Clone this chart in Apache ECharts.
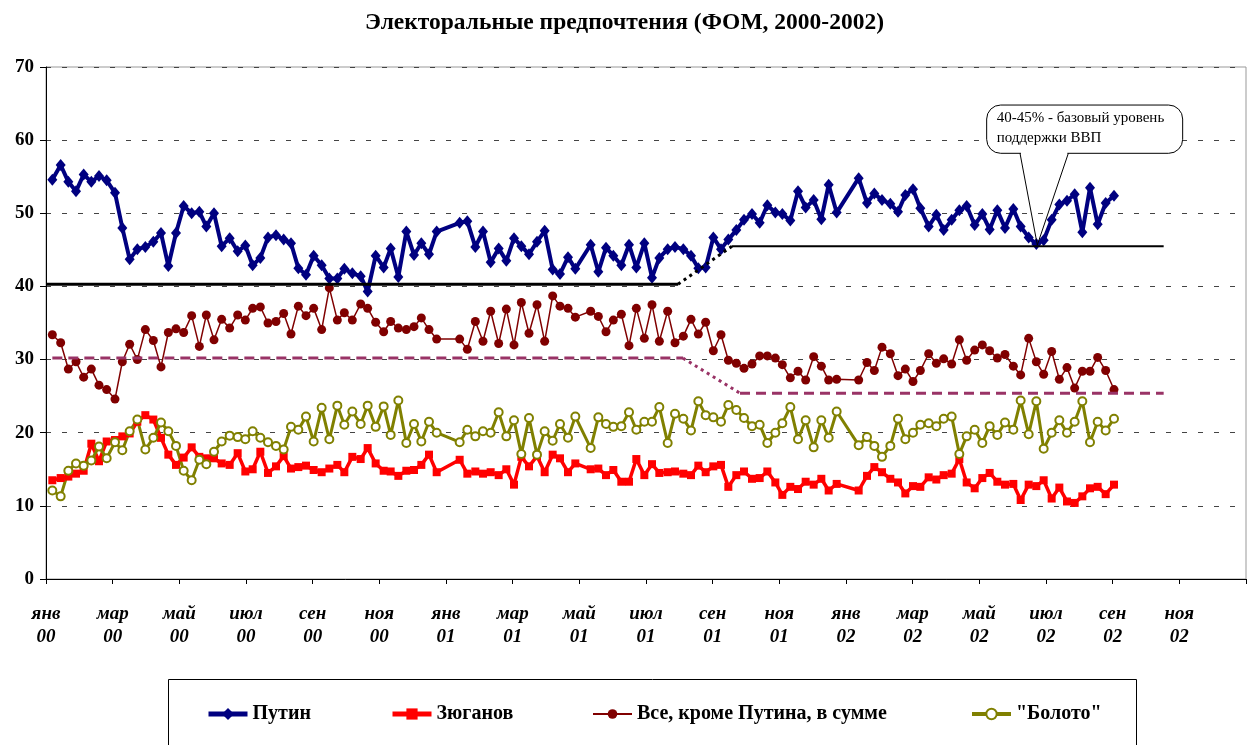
<!DOCTYPE html>
<html>
<head>
<meta charset="utf-8">
<script src="https://cdn.jsdelivr.net/npm/echarts@6/dist/echarts.min.js"></script>
<style>
html,body{margin:0;padding:0;background:#fff;}
#c{width:1249px;height:745px;}
</style>
</head>
<body>
<div id="c"></div>
<script>
// Poll dates, in months since 1 Jan 2000
const pollMonths = [
0.19,0.44,0.67,0.90,1.13,1.36,1.59,1.82,2.07,2.29,
2.51,2.74,2.98,3.22,3.45,3.67,3.90,4.13,4.37,4.60,
4.81,5.04,5.27,5.51,5.75,5.98,6.20,6.43,6.66,6.90,
7.13,7.35,7.57,7.80,8.03,8.27,8.50,8.74,8.95,9.19,
9.44,9.65,9.89,10.13,10.34,10.57,10.81,11.04,11.26,11.49,
11.72,12.41,12.64,12.88,13.11,13.34,13.58,13.81,14.04,14.26,
14.49,14.73,14.96,15.20,15.42,15.66,15.88,16.34,16.57,16.80,
17.02,17.26,17.49,17.71,17.95,18.18,18.40,18.65,18.87,19.12,
19.35,19.57,19.79,20.02,20.25,20.47,20.71,20.94,21.18,21.41,
21.64,21.88,22.09,22.33,22.56,22.79,23.03,23.26,23.48,23.72,
24.38,24.63,24.85,25.08,25.33,25.56,25.78,26.01,26.23,26.48,
26.71,26.93,27.17,27.40,27.62,27.86,28.09,28.31,28.54,28.77,
29.02,29.24,29.48,29.71,29.93,30.17,30.40,30.63,30.86,31.09,
31.32,31.55,31.79,32.04
];

const putin = [
54.6,56.6,54.3,53.0,55.3,54.3,55.1,54.5,52.8,48.0,
43.7,45.1,45.4,46.1,47.3,42.8,47.3,51.0,50.0,50.2,
48.2,50.0,45.5,46.6,44.8,45.6,42.9,43.9,46.7,47.0,
46.4,45.9,42.5,41.6,44.2,42.9,41.1,41.1,42.4,41.8,
41.4,39.3,44.2,42.6,45.2,41.3,47.5,44.3,45.9,44.4,
47.5,48.7,48.9,45.4,47.5,43.3,45.2,43.5,46.6,45.5,
44.4,46.1,47.6,42.3,41.7,44.0,42.4,45.7,42.0,45.3,
44.2,42.9,45.7,42.6,45.9,41.2,43.9,45.1,45.4,45.1,
44.2,42.5,42.6,46.7,45.1,46.4,47.7,49.1,49.9,48.7,
51.1,50.1,49.9,49.0,53.0,50.8,51.8,49.2,53.9,50.1,
54.8,51.4,52.7,51.8,51.3,50.2,52.5,53.3,50.7,48.2,
49.8,47.7,49.1,50.4,51.0,48.4,49.9,47.8,50.4,48.0,
50.6,48.2,46.7,45.8,46.3,49.1,51.2,51.7,52.6,47.4,
53.5,48.5,51.4,52.4
];

const zyuganov = [
13.5,13.8,14.0,14.4,14.8,18.5,16.1,18.8,19.0,19.5,
19.9,21.5,22.4,21.8,19.3,17.0,15.6,16.6,18.0,16.7,
16.5,16.5,15.8,15.6,17.2,14.7,15.0,17.4,14.5,15.4,
16.8,15.1,15.3,15.5,14.9,14.6,15.1,15.6,14.6,16.7,
16.4,17.9,15.8,14.8,14.7,14.1,14.8,14.9,15.6,17.0,
14.6,16.3,14.4,14.7,14.4,14.6,14.2,15.0,12.9,16.7,
15.4,16.8,14.6,17.0,16.5,14.6,15.8,15.0,15.1,14.2,
14.9,13.3,13.3,16.4,14.2,15.7,14.5,14.6,14.7,14.4,
14.2,15.5,14.6,15.4,15.6,12.6,14.2,14.7,13.7,13.8,
14.7,13.2,11.5,12.6,12.3,13.3,12.9,13.7,12.1,13.0,
12.1,14.1,15.3,14.6,13.7,13.2,11.7,12.7,12.6,13.9,
13.6,14.2,14.4,16.4,13.2,12.4,13.8,14.5,13.3,12.9,
13.0,10.8,12.9,12.7,13.5,11.0,12.5,10.6,10.4,11.3,
12.4,12.6,11.6,12.9
];

const allButPutin = [
33.4,32.3,28.7,29.7,27.6,28.7,26.5,25.9,24.6,29.7,
32.1,30.0,34.1,32.6,29.0,33.7,34.2,33.7,36.0,31.8,
36.1,32.7,35.5,34.3,36.1,35.4,37.0,37.2,35.0,35.2,
36.3,33.5,37.3,36.0,37.0,34.1,39.8,35.4,36.4,35.4,
37.6,37.0,35.1,33.8,35.2,34.3,34.1,34.5,35.7,34.1,
32.8,32.8,31.4,35.2,32.5,36.6,32.2,36.9,32.0,37.8,
33.6,37.5,32.5,38.7,37.3,37.0,35.8,36.6,35.9,33.8,
35.4,36.2,31.9,37.0,32.9,37.5,32.5,36.6,32.3,33.2,
35.5,33.5,35.1,31.2,33.4,29.9,29.5,28.8,29.4,30.5,
30.5,30.2,29.3,27.5,28.4,27.2,30.4,29.1,27.2,27.3,
27.2,29.6,28.5,31.7,30.8,27.8,28.7,27.0,28.5,30.8,
29.5,30.1,29.4,32.7,29.9,31.3,32.0,31.2,30.2,30.7,
29.1,27.9,32.9,29.7,28.0,31.1,27.3,28.9,26.1,28.4,
28.4,30.3,28.5,25.9
];

const boloto = [
12.1,11.3,14.8,15.8,15.5,16.2,18.1,16.5,18.7,17.6,
20.2,21.8,17.7,19.3,21.4,20.2,18.2,14.8,13.5,16.3,
15.7,17.4,18.8,19.6,19.4,19.1,20.2,19.3,18.7,18.2,
17.7,20.8,20.4,22.2,18.8,23.4,19.1,23.7,21.1,22.9,
21.2,23.7,20.8,23.6,19.7,24.4,18.6,21.2,18.8,21.5,
20.0,18.7,20.4,19.5,20.2,20.0,22.8,19.5,21.7,17.1,
22.0,17.0,20.2,18.9,21.2,19.3,22.2,17.9,22.1,21.2,
20.8,20.9,22.8,20.4,21.5,21.5,23.5,18.6,22.6,21.9,
20.3,24.3,22.4,22.1,21.5,23.8,23.1,22.0,20.9,21.1,
18.6,20.0,21.3,23.5,19.1,21.7,18.0,21.7,19.3,22.9,
18.3,19.4,18.2,16.7,18.2,21.9,19.1,20.0,21.1,21.3,
20.9,21.9,22.2,17.1,19.5,20.4,18.6,20.9,19.7,21.4,
20.4,24.4,19.8,24.3,17.8,20.0,21.7,20.0,21.5,24.3,
18.7,21.5,20.3,21.9
];

// Tick labels
const monthLabels = ['янв','мар','май','июл','сен','ноя'];
const yearLabels = ['00','01','02'];

// Series names
const seriesNames = ['Путин','Зюганов','Все, кроме Путина, в сумме','"Болото"'];

// Base-level reference lines (months, levels)
const putinBaseMonths = [0, 18.96, 20.58, 33.53];
const putinBaseLevels = [40.3, 45.5];
const othersBaseMonths = [0.19, 19.11, 20.82, 33.53];
const othersBaseLevels = [30.2, 25.4];

// Callout (anchored in data space)
const calloutText = ['40-45% - базовый уровень', 'поддержки ВВП'];
const calloutBoxMonths = [28.22, 34.10];
const calloutBoxLevels = [64.8, 58.2];
const calloutBaseMonths = [29.22, 30.67];
const calloutTip = [29.74, 45.67];

const serif = '"Liberation Serif","Times New Roman",serif';
const zip = vals => pollMonths.map((m, i) => [m, vals[i]]);

const colors = ['#000080', '#ff0000', '#800000', '#808000'];

const chart = echarts.init(document.getElementById('c'));

function refLine(points, color, width, type) {
  return {
    type: 'line', data: points, symbol: 'none', silent: true, z: 5,
    lineStyle: {color: color, width: width, type: type}, animation: false
  };
}

const legendLefts = [206, 390, 592, 970];
const legendItemHeights = [15, 14, 12, 13];
const legendLineWidths = [5, 5, 2, 4];

const option = {
  animation: false,
  backgroundColor: '#fff',
  title: {
    text: 'Электоральные предпочтения (ФОМ, 2000-2002)',
    left: 'center', top: 6,
    textStyle: {fontFamily: serif, fontWeight: 'bold', fontSize: 23.5, color: '#000'}
  },
  grid: {left: 46, right: 3, top: 67, bottom: 166, show: true, borderColor: '#999', borderWidth: 1},
  xAxis: {
    type: 'value', min: 0, max: 36, interval: 2,
    axisLine: {lineStyle: {color: '#000', width: 1}},
    axisTick: {length: 5, lineStyle: {color: '#000'}},
    splitLine: {show: false},
    axisLabel: {
      formatter: v => v >= 36 ? '' : monthLabels[(v / 2) % 6] + '\n' + yearLabels[Math.floor(v / 12)],
      fontFamily: serif, fontStyle: 'italic', fontWeight: 'bold', fontSize: 19,
      lineHeight: 23, margin: 24, color: '#000'
    }
  },
  yAxis: {
    type: 'value', min: 0, max: 70, interval: 10,
    axisLine: {show: true, lineStyle: {color: '#000', width: 1}},
    axisTick: {show: true, length: 6, lineStyle: {color: '#000'}},
    splitLine: {show: true, lineStyle: {type: [5, 11], color: '#444', width: 1}},
    axisLabel: {fontFamily: serif, fontWeight: 'bold', fontSize: 19, margin: 12, color: '#000'}
  },
  legend: seriesNames.map((n, i) => ({
    data: [n], left: legendLefts[i], top: 702,
    padding: 0, itemWidth: 39, itemHeight: legendItemHeights[i], itemGap: 0,
    selectedMode: false,
    lineStyle: {width: legendLineWidths[i], color: colors[i]},
    textStyle: {fontFamily: serif, fontWeight: 'bold', fontSize: 20, color: '#000', lineHeight: 24}
  })),
  series: [
    {
      name: seriesNames[0], type: 'line', data: zip(putin),
      symbol: 'diamond', symbolSize: [10, 12],
      lineStyle: {color: colors[0], width: 4}, itemStyle: {color: colors[0]}, z: 2
    },
    {
      name: seriesNames[1], type: 'line', data: zip(zyuganov),
      symbol: 'rect', symbolSize: 8,
      lineStyle: {color: colors[1], width: 3.5}, itemStyle: {color: colors[1]}, z: 2
    },
    {
      name: seriesNames[2], type: 'line', data: zip(allButPutin),
      symbol: 'circle', symbolSize: 9,
      lineStyle: {color: colors[2], width: 1.5}, itemStyle: {color: colors[2]}, z: 2
    },
    {
      name: seriesNames[3], type: 'line', data: zip(boloto),
      symbol: 'emptyCircle', symbolSize: 8,
      lineStyle: {color: colors[3], width: 3}, itemStyle: {color: colors[3], borderWidth: 2}, z: 2
    },
    refLine([[putinBaseMonths[0], putinBaseLevels[0]], [putinBaseMonths[1], putinBaseLevels[0]]], '#000', 3, 'solid'),
    refLine([[putinBaseMonths[1], putinBaseLevels[0]], [putinBaseMonths[2], putinBaseLevels[1]]], '#000', 3, [3, 4]),
    refLine([[putinBaseMonths[2], putinBaseLevels[1]], [putinBaseMonths[3], putinBaseLevels[1]]], '#000', 2, 'solid'),
    refLine([[othersBaseMonths[0], othersBaseLevels[0]], [othersBaseMonths[1], othersBaseLevels[0]]], '#993366', 3, [10, 6]),
    refLine([[othersBaseMonths[1], othersBaseLevels[0]], [othersBaseMonths[2], othersBaseLevels[1]]], '#993366', 3, [3, 4]),
    refLine([[othersBaseMonths[2], othersBaseLevels[1]], [othersBaseMonths[3], othersBaseLevels[1]]], '#993366', 3, [10, 6])
  ]
};

chart.setOption(option);

// Callout and legend frame, positioned after layout
const px = (m, v) => chart.convertToPixel({xAxisIndex: 0, yAxisIndex: 0}, [m, v]);
const tl = px(calloutBoxMonths[0], calloutBoxLevels[0]);
const br = px(calloutBoxMonths[1], calloutBoxLevels[1]);
const bl = px(calloutBaseMonths[0], calloutBoxLevels[1]);
const brr = px(calloutBaseMonths[1], calloutBoxLevels[1]);
const tip = px(calloutTip[0], calloutTip[1]);

chart.setOption({
  graphic: [
    {
      type: 'rect', left: 166, top: 677, silent: true,
      shape: {width: 968, height: 120},
      style: {fill: 'none', stroke: '#000', lineWidth: 1}, z: 1
    },
    {
      type: 'rect', silent: true, z: 100,
      shape: {x: tl[0], y: tl[1], width: br[0] - tl[0], height: br[1] - tl[1], r: 14},
      style: {fill: '#fff', stroke: '#000', lineWidth: 1}
    },
    {
      type: 'line', silent: true, z: 101,
      shape: {x1: bl[0] + 1, y1: bl[1], x2: brr[0] - 1, y2: brr[1]},
      style: {stroke: '#fff', lineWidth: 3}
    },
    {
      type: 'polyline', silent: true, z: 102,
      shape: {points: [bl, tip, brr]},
      style: {stroke: '#000', lineWidth: 1, fill: null}
    },
    {
      type: 'text', silent: true, z: 103,
      x: tl[0] + 10, y: tl[1] + 3,
      style: {
        text: calloutText.join('\n'), fill: '#000',
        font: '15px ' + serif, lineHeight: 20, verticalAlign: 'top', align: 'left'
      }
    }
  ]
});
</script>
</body>
</html>
